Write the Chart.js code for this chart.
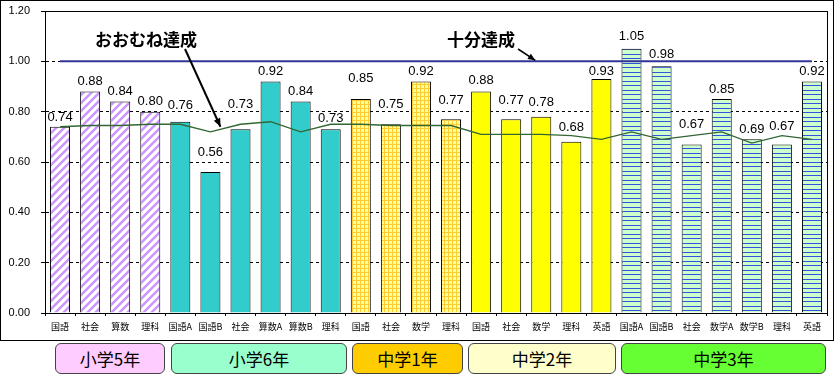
<!DOCTYPE html>
<html><head><meta charset="utf-8">
<script src="https://cdn.jsdelivr.net/npm/chart.js@4"></script>
<style>
html,body{margin:0;padding:0;background:#fff;}
#wrap{position:relative;width:836px;height:376px;overflow:hidden;background:#fff;}
#c{position:absolute;left:0;top:0;}
.grp{position:absolute;top:343px;height:31px;border:1px solid #444;border-radius:6px;box-sizing:border-box;display:flex;align-items:center;justify-content:center;font-family:"Noto Sans CJK JP",sans-serif;font-size:17px;color:#000;}
</style></head>
<body><div id="wrap"><canvas id="c" width="836" height="342"></canvas></div>
<script>
const categories = ['国語','社会','算数','理科','国語A','国語B','社会','算数A','算数B','理科','国語','社会','数学','理科','国語','社会','数学','理科','英語','国語A','国語B','社会','数学A','数学B','理科','英語'];
const scores = [0.74,0.88,0.84,0.80,0.76,0.56,0.73,0.92,0.84,0.73,0.85,0.75,0.92,0.77,0.88,0.77,0.78,0.68,0.93,1.05,0.98,0.67,0.85,0.69,0.67,0.92];
const approxLine = [0.74,0.745,0.745,0.75,0.75,0.72,0.75,0.76,0.72,0.75,0.75,0.745,0.745,0.745,0.71,0.71,0.71,0.705,0.69,0.72,0.69,0.705,0.72,0.675,0.705,0.69];
const fullLine = [1,1,1,1,1,1,1,1,1,1,1,1,1,1,1,1,1,1,1,1,1,1,1,1,1,1];
const groups = ['小学5年','小学6年','中学1年','中学2年','中学3年'];
const groupSizes = [4,6,4,5,7];
const noteTexts = ['おおむね達成','十分達成'];

// styling (kept separate from data)
const groupColors = ['#FFCCFF','#99FFCC','#FFCC00','#FFFFCC','#66FF33'];
const groupBoxes = [[55,110],[171,176],[352,111],[468,148],[621,205]];
const labelGap = [9,10,10,10,16,20,25,10,10,11,21,20,10,19,11,19,14,14,8,12,12,20,10,10,18,10];

const canvas = document.getElementById('c');
const ctx = canvas.getContext('2d');

function tile(w,h,draw){const c=document.createElement('canvas');c.width=w;c.height=h;draw(c.getContext('2d'));return ctx.createPattern(c,'repeat');}
const patDiag = tile(8,8,g=>{g.fillStyle='#fff';g.fillRect(0,0,8,8);g.strokeStyle='#CC99FF';g.lineWidth=2.6;g.beginPath();g.moveTo(-2,10);g.lineTo(10,-2);g.moveTo(-6,6);g.lineTo(6,-6);g.moveTo(2,14);g.lineTo(14,2);g.stroke();});
const patGrid = tile(4,4,g=>{g.fillStyle='#FFFF99';g.fillRect(0,0,4,4);g.fillStyle='#FFCC33';g.fillRect(0,0,4,1);g.fillRect(0,0,1,4);});
const patHoriz = tile(4,9,g=>{g.fillStyle='#CCFFCC';g.fillRect(0,0,4,9);g.fillStyle='#3355DD';g.fillRect(0,0,4,1);g.fillRect(0,4,4,1);});
const groupFills = [patDiag,'#33CCCC',patGrid,'#FFFF00',patHoriz];

const barColors = [];
groupSizes.forEach((n,gi)=>{for(let i=0;i<n;i++)barColors.push(groupFills[gi]);});

// group boxes as html text
const wrap = document.getElementById('wrap');
groups.forEach((g,i)=>{const d=document.createElement('div');d.className='grp';d.textContent=g;d.style.left=groupBoxes[i][0]+'px';d.style.width=groupBoxes[i][1]+'px';d.style.background=groupColors[i];wrap.appendChild(d);});

const BAR_DS = 2;
const labelsPlugin = {
  id:'vals',
  afterDatasetsDraw(chart){
    const c=chart.ctx, meta=chart.getDatasetMeta(BAR_DS);
    c.save();c.font='13px "Liberation Sans", Arial, sans-serif';c.fillStyle='#000';c.textAlign='center';c.textBaseline='middle';
    meta.data.forEach((el,i)=>{c.fillText(scores[i].toFixed(2),el.x,el.y-labelGap[i]);});
    c.restore();
  }
};
const framePlugin = {
  id:'frame',
  afterDraw(chart){
    const c=chart.ctx,a=chart.chartArea;
    c.save();c.strokeStyle='#000';c.lineWidth=1;
    c.strokeRect(Math.round(a.left)+0.5,Math.round(a.top)+0.5,Math.round(a.right-a.left),Math.round(a.bottom-a.top));
    c.strokeRect(0.5,0.5,833,340);
    c.restore();
  }
};
function arrow(c,x1,y1,x2,y2,head){
  c.beginPath();c.moveTo(x1,y1);c.lineTo(x2,y2);c.stroke();
  const ang=Math.atan2(y2-y1,x2-x1);
  c.beginPath();c.moveTo(x2,y2);
  c.lineTo(x2-head*Math.cos(ang-0.4),y2-head*Math.sin(ang-0.4));
  c.lineTo(x2-head*Math.cos(ang+0.4),y2-head*Math.sin(ang+0.4));
  c.closePath();c.fill();
}
const notesPlugin = {
  id:'notes',
  afterDraw(chart){
    const c=chart.ctx,xs=chart.scales.x,ys=chart.scales.y;
    c.save();c.fillStyle='#000';c.strokeStyle='#000';
    c.font='bold 17px "Noto Sans CJK JP", sans-serif';c.textAlign='center';c.textBaseline='middle';
    c.fillText(noteTexts[0],146,40);
    c.fillText(noteTexts[1],481,40);
    c.lineWidth=2;
    arrow(c,185,49,(xs.getPixelForValue(5)+xs.getPixelForValue(6))/2-5,ys.getPixelForValue(0.74),9);
    c.lineWidth=1.5;
    arrow(c,518,49,xs.getPixelForValue(16)-6,ys.getPixelForValue(1.0)-1,8);
    c.restore();
  }
};

new Chart(ctx,{
  type:'bar',
  data:{labels:categories,datasets:[
    {type:'line',data:fullLine,borderColor:'#333399',borderWidth:2,pointRadius:0,order:1},
    {type:'line',data:approxLine,borderColor:'#336633',borderWidth:1.3,pointRadius:0,tension:0,order:2},
    {type:'bar',data:scores,backgroundColor:barColors,borderColor:'#000',borderWidth:1,barPercentage:0.665,categoryPercentage:1,order:3}
  ]},
  options:{
    responsive:false,animation:false,events:[],
    layout:{padding:{left:0,right:9,top:11,bottom:0}},
    plugins:{legend:{display:false},tooltip:{enabled:false}},
    scales:{
      x:{offset:true,
        grid:{offset:true,drawOnChartArea:false,tickLength:3,color:'#000'},
        border:{color:'#000'},
        ticks:{font:{size:9,family:'"Noto Sans CJK JP", sans-serif'},color:'#000',padding:5,maxRotation:0,autoSkip:false},
        afterFit(s){s.height=29;}},
      y:{min:0,max:1.2,
        ticks:{stepSize:0.2,callback:v=>Number(v).toFixed(2),font:{size:11,family:'"Liberation Sans", Arial, sans-serif'},color:'#000',padding:11},
        grid:{color:(cx)=>{const v=cx.tick?cx.tick.value:0;return (Math.abs(v)<1e-6||Math.abs(v-1.2)<1e-6)?'rgba(0,0,0,0)':'#000';},tickColor:'#000',tickLength:4,tickBorderDash:[]},
        border:{color:'#000',dash:[3,3]},
        afterFit(s){s.width=45;s.paddingTop=6;s.paddingBottom=6;}}
    }
  },
  plugins:[labelsPlugin,framePlugin,notesPlugin]
});
</script>
</body></html>
